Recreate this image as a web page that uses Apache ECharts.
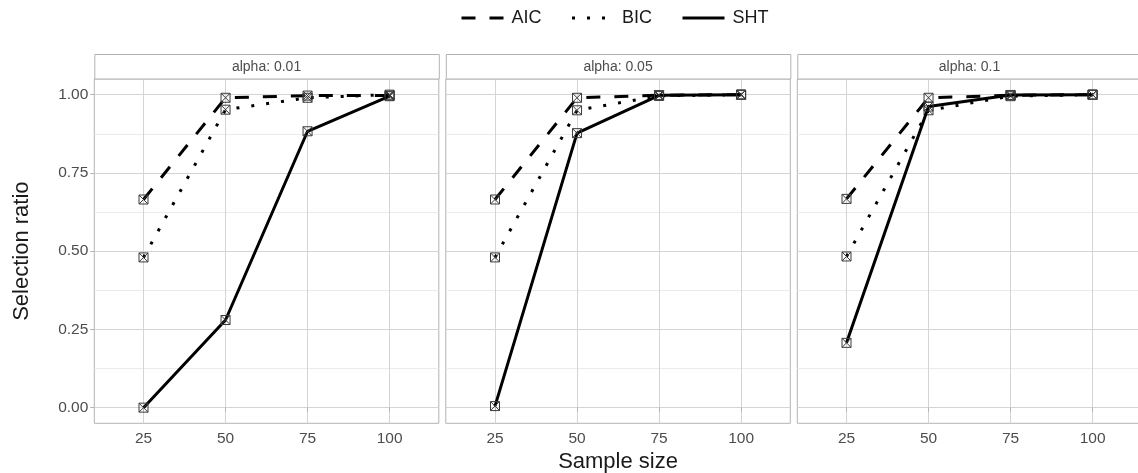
<!DOCTYPE html>
<html>
<head>
<meta charset="utf-8">
<script src="https://cdn.jsdelivr.net/npm/echarts@6/dist/echarts.min.js"></script>
<style>
html,body{margin:0;padding:0;background:#fff;}
#chart{width:1138px;height:473px;}
</style>
</head>
<body>
<div id="chart"></div>
<script>
const sampleSizes = [25, 50, 75, 100];
const panelTitles = ['alpha: 0.01', 'alpha: 0.05', 'alpha: 0.1'];
const methods = ['AIC', 'BIC', 'SHT'];
const yTicks = [0, 0.25, 0.5, 0.75, 1];
const yMinorTicks = [0.125, 0.375, 0.625, 0.875];
const yTickLabels = ['0.00', '0.25', '0.50', '0.75', '1.00'];

// alpha 0.01
const aic001 = [0.665, 0.99, 0.997, 0.997];
const bic001 = [0.48, 0.952, 0.99, 1.0];
const sht001 = [0.0, 0.28, 0.883, 0.995];
// alpha 0.05
const aic005 = [0.665, 0.99, 0.998, 1.0];
const bic005 = [0.48, 0.95, 0.996, 1.0];
const sht005 = [0.005, 0.877, 0.998, 1.0];
// alpha 0.1
const aic010 = [0.667, 0.99, 0.998, 1.0];
const bic010 = [0.483, 0.95, 0.995, 1.0];
const sht010 = [0.207, 0.962, 0.999, 1.0];

const panelData = [
  [aic001, bic001, sht001],
  [aic005, bic005, sht005],
  [aic010, bic010, sht010]
];

const lineTypes = [[14, 14], [3, 12], 'solid'];
const FONT = '"Liberation Sans", Arial, sans-serif';

const panelLeft = [94.3, 445.8, 797.3];
const panelW = 344.5;
const panelTop = 79;
const panelH = 344.3;

const grids = [], xAxes = [], yAxes = [], series = [], graphics = [];

panelLeft.forEach((left, p) => {
  grids.push({
    left: left, top: panelTop, width: panelW, height: panelH,
    outerBoundsMode: 'none', containLabel: false,
    show: true, borderColor: '#b3b3b3', borderWidth: 1, backgroundColor: '#fff'
  });
  xAxes.push({
    type: 'value', gridIndex: p, min: 10, max: 115,
    axisLine: { show: false },
    axisTick: { show: true, customValues: sampleSizes, length: 4, lineStyle: { color: '#b3b3b3' } },
    axisLabel: { show: true, customValues: sampleSizes, margin: 7, fontSize: 15.5, color: '#4d4d4d', fontFamily: FONT },
    splitLine: { show: true, lineStyle: { color: '#d4d4d4', width: 1 } },
    name: p === 1 ? 'Sample size' : '',
    nameLocation: 'middle', nameGap: 26,
    nameTextStyle: { fontSize: 22, color: '#1a1a1a', fontFamily: FONT }
  });
  // major y axis
  yAxes.push({
    type: 'value', gridIndex: p, min: -0.05, max: 1.05,
    axisLine: { show: false },
    axisTick: { show: p === 0, customValues: yTicks, length: 4, lineStyle: { color: '#b3b3b3' } },
    axisLabel: {
      show: p === 0, customValues: yTicks, margin: 6, fontSize: 15.5, color: '#4d4d4d', fontFamily: FONT,
      formatter: v => yTickLabels[yTicks.indexOf(+v.toFixed(3))] ?? v.toFixed(2)
    },
    splitLine: { show: true, lineStyle: { color: '#d4d4d4', width: 1 } },
    name: p === 0 ? 'Selection ratio' : '',
    nameLocation: 'middle', nameGap: 61, nameRotate: 90,
    nameTextStyle: { fontSize: 22, color: '#1a1a1a', fontFamily: FONT }
  });
  // minor y grid axis
  yAxes.push({
    type: 'value', gridIndex: p, min: -0.05, max: 1.05,
    axisLine: { show: false },
    axisTick: { show: false, customValues: yMinorTicks },
    axisLabel: { show: false, customValues: yMinorTicks },
    splitLine: { show: true, lineStyle: { color: '#ebebeb', width: 1 } }
  });

  // strip
  graphics.push({
    type: 'rect', left: left, top: 54,
    shape: { width: panelW, height: 24.5 },
    style: { fill: '#fff', stroke: '#b3b3b3', lineWidth: 1 }, z: 10
  });
  graphics.push({
    type: 'text', x: left + panelW / 2, y: 67,
    style: { text: panelTitles[p], fill: '#4d4d4d', fontSize: 14, fontFamily: FONT, align: 'center', verticalAlign: 'middle' },
    z: 11
  });

  methods.forEach((m, k) => {
    series.push({
      type: 'line', name: m,
      xAxisIndex: p, yAxisIndex: p * 2,
      data: sampleSizes.map((x, i) => [x, panelData[p][k][i]]),
      symbol: 'path://M0,0L10,0L10,10L0,10ZM0,0L10,10M10,0L0,10',
      symbolSize: 9,
      showSymbol: true,
      itemStyle: { color: 'rgba(255,255,255,0)', borderColor: '#3a3a3a', borderWidth: 1 },
      lineStyle: { color: '#000', width: 3, type: lineTypes[k], cap: 'butt' },
      emphasis: { disabled: true },
      animation: false,
      z: 3 + k
    });
  });
});

const chart = echarts.init(document.getElementById('chart'), null, { renderer: 'canvas' });
chart.setOption({
  backgroundColor: '#fff',
  animation: false,
  legend: {
    data: methods,
    top: 4, left: 455,
    itemWidth: 42, itemHeight: 16, itemGap: 29,
    itemStyle: { opacity: 0 },
    lineStyle: { width: 3 },
    textStyle: { fontSize: 18, color: '#1a1a1a', fontFamily: FONT, padding: [0, 0, 0, 3] },
    selectedMode: false
  },
  grid: grids,
  xAxis: xAxes,
  yAxis: yAxes,
  series: series,
  graphic: graphics
});
</script>
</body>
</html>
